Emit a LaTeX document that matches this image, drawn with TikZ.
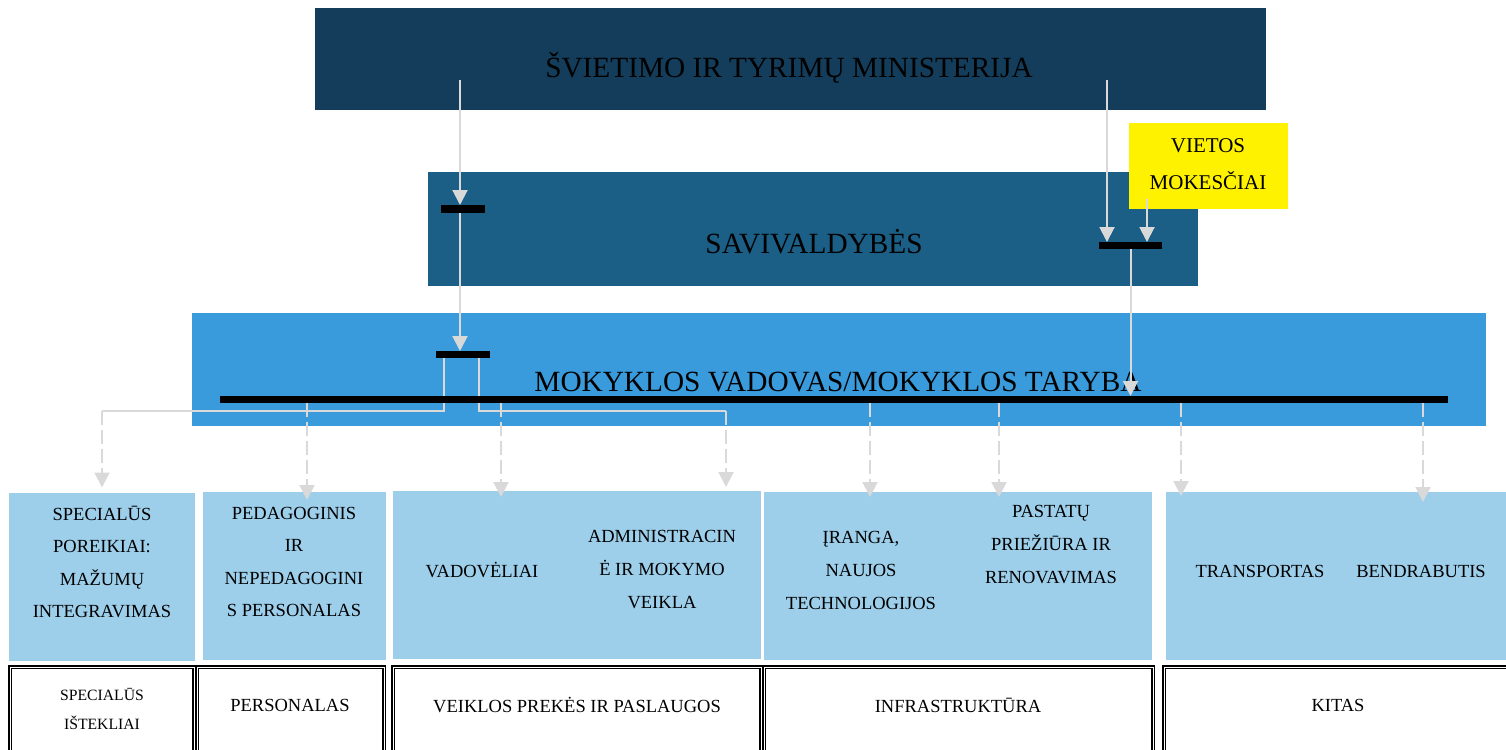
\documentclass[tikz,border=0pt]{standalone}
\usepackage{fontspec}
\setmainfont{Liberation Serif}
\usetikzlibrary{arrows.meta}
\definecolor{navy}{RGB}{19,61,90}
\definecolor{steel}{RGB}{27,94,134}
\definecolor{sky}{RGB}{57,155,219}
\definecolor{pale}{RGB}{157,207,235}
\definecolor{ash}{RGB}{217,217,217}
\tikzstyle{arrow} = [line width=2pt, draw=ash, -{Triangle[width=15pt,length=15pt]}]
\tikzstyle{dasharrow} = [arrow, dash pattern=on 14pt off 5pt]
\tikzstyle{line} = [line width=2pt, draw=ash]

\begin{document}
\begin{tikzpicture}[x=1pt, y=-1pt]
        \tikzstyle{panel} = [rectangle, inner sep=0pt, outer sep=0pt]
        \tikzstyle{bar} = [panel, fill=black]
        \tikzstyle{cell} = [panel, fill=pale, minimum height=168pt]
        \tikzstyle{foot} = [panel, draw, double, line width=1.2pt, double distance=1pt, minimum height=93pt]
        \tikzstyle{big} = [font=\fontsize{29.3}{35}\selectfont]
        \tikzstyle{small} = [font=\fontsize{18.5}{32.6}\selectfont, align=center]

        \useasboundingbox (0,0) rectangle (1506,749);

        \node [panel, fill=navy, minimum width=951pt, minimum height=102pt] (ministry) at (790.5,59) {};
        \node [panel, fill=steel, minimum width=770pt, minimum height=114pt] (municipality) at (813,229) {};
        \node [panel, fill=yellow, minimum width=159pt, minimum height=86pt] (taxes) at (1208.5,166) {};
        \node [panel, fill=sky, minimum width=1294pt, minimum height=113pt] (school) at (839,369.5) {};

        \node [cell, minimum width=186pt] (cell1) at (102,576.5) {};
        \node [cell, minimum width=183pt] (cell2) at (294.5,575.5) {};
        \node [cell, minimum width=368pt] (cell3) at (577,575) {};
        \node [cell, minimum width=388pt] (cell4) at (958,575.5) {};
        \node [cell, minimum width=190pt] (cell5) at (1261,575.5) {};
        \node [cell, minimum width=154pt] (cell6) at (1433,575.5) {};

        \node [foot, minimum width=184pt] (foot1) at (102,713.5) {};
        \node [foot, minimum width=187pt] (foot2) at (290.5,713.5) {};
        \node [foot, minimum width=368pt] (foot3) at (577,713.5) {};
        \node [foot, minimum width=389pt] (foot4) at (958.5,713.5) {};
        \node [foot, minimum width=346pt] (foot5) at (1337,713.5) {};

        \node [big] (ministrytext) at (789,68) {ŠVIETIMO IR TYRIMŲ MINISTERIJA};
        \node [big] (municipalitytext) at (814,242) {SAVIVALDYBĖS};
        \node [font=\fontsize{21}{37}\selectfont, align=center] (taxestext) at (1208,164.5) {VIETOS\\MOKESČIAI};
        \node [big] (schooltext) at (838,382) {MOKYKLOS VADOVAS/MOKYKLOS TARYBA};

        \node [small] (text1) at (102,562) {SPECIALŪS\\POREIKIAI:\\MAŽUMŲ\\INTEGRAVIMAS};
        \node [small] (text2) at (294,562) {PEDAGOGINIS\\IR\\NEPEDAGOGINI\\S PERSONALAS};
        \node [small] (text3) at (482,570) {VADOVĖLIAI};
        \node [small] (text4) at (662,569.5) {ADMINISTRACIN\\Ė IR MOKYMO\\VEIKLA};
        \node [small] (text5) at (861,570.5) {ĮRANGA,\\NAUJOS\\TECHNOLOGIJOS};
        \node [small] (text6) at (1051,544.5) {PASTATŲ\\PRIEŽIŪRA IR\\RENOVAVIMAS};
        \node [small] (text7) at (1260,571) {TRANSPORTAS};
        \node [small] (text8) at (1421,571) {BENDRABUTIS};

        \node [font=\fontsize{15.7}{29}\selectfont, align=center] (foottext1) at (102,708.5) {SPECIALŪS\\IŠTEKLIAI};
        \node [small] (foottext2) at (290,705) {PERSONALAS};
        \node [small] (foottext3) at (577,705) {VEIKLOS PREKĖS IR PASLAUGOS};
        \node [small] (foottext4) at (958,705) {INFRASTRUKTŪRA};
        \node [small] (foottext5) at (1338,705) {KITAS};

        \node [bar, minimum width=44pt, minimum height=8pt] (hub1) at (463,209) {};
        \node [bar, minimum width=63pt, minimum height=7pt] (hub3) at (1130.5,245.5) {};
        \node [bar, minimum width=54pt, minimum height=7pt] (hub2) at (463,354.5) {};
        \node [bar, minimum width=1228pt, minimum height=7pt] (rail) at (834,399.5) {};

        \coordinate (from1) at (460,80);
        \coordinate (from2) at (1107,80);
        \coordinate (from3) at (1147,199);
        \coordinate (elbowL) at (102,411);
        \coordinate (elbowR) at (726,411);
        \coordinate (tip2) at (307,500);
        \coordinate (tip3) at (501,497);
        \coordinate (tip4) at (870,497);
        \coordinate (tip5) at (999,497);
        \coordinate (tip6) at (1181,496);
        \coordinate (tip7) at (1423,502);

        \draw [arrow] (from1) -- (from1 |- hub1.north);
        \draw [arrow] (hub1.south -| from1) -- (from1 |- hub2.north);
        \draw [arrow] (from2) -- (from2 |- hub3.north);
        \draw [arrow] (from3) -- (from3 |- hub3.north);
        \draw [arrow] (hub3.south) -- (hub3.south |- rail.north);

        \draw [line] ([xshift=-19pt]hub2.south) |- (elbowL);
        \draw [dasharrow, shorten >=5pt] (elbowL) -- (elbowL |- cell1.north);
        \draw [line] ([xshift=16pt]hub2.south) |- (elbowR);
        \draw [dasharrow, shorten >=4pt] (elbowR) -- (elbowR |- cell3.north);

        \draw [dasharrow] (rail.south -| tip2) -- (tip2);
        \draw [dasharrow] (rail.south -| tip3) -- (tip3);
        \draw [dasharrow] (rail.south -| tip4) -- (tip4);
        \draw [dasharrow] (rail.south -| tip5) -- (tip5);
        \draw [dasharrow] (rail.south -| tip6) -- (tip6);
        \draw [dasharrow] (rail.south -| tip7) -- (tip7);

        \node [bar, minimum width=54pt, minimum height=7pt] at (hub2) {};
        \node [bar, minimum width=1228pt, minimum height=7pt] at (rail) {};
\end{tikzpicture}
\end{document}
